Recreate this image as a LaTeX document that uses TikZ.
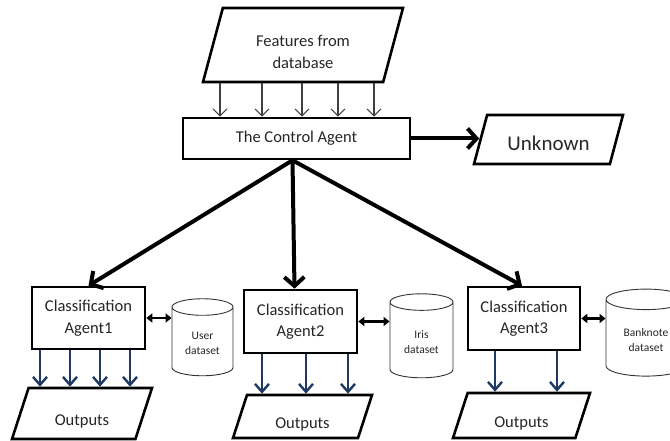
\documentclass[tikz,border=0pt]{standalone}
\usepackage{fontspec}
\setmainfont{Carlito}
\usetikzlibrary{shapes.geometric,arrows.meta}
\definecolor{navy}{RGB}{31,56,100}

\begin{document}
\begin{tikzpicture}[x=1pt,y=-1pt,
  box/.style={draw=black,line width=2.6pt,align=center,text=black!85,font=\fontsize{16.5}{21.5}\selectfont},
  slantbox/.style={trapezium,trapezium left angle=72,trapezium right angle=108,trapezium stretches body,inner ysep=0pt,draw=black,line width=2.6pt,align=center,text=black!85,font=\fontsize{16.5}{21.5}\selectfont},
  datastore/.style={cylinder,shape border rotate=90,aspect=0.4,draw=black!80,line width=0.9pt,align=center,text=black!85,font=\fontsize{11.5}{15}\selectfont},
  feed/.style={-{Straight Barb[length=7pt,width=14pt]},line width=1.1pt,draw=black!75},
  bigarrow/.style={-{Straight Barb[length=9pt,width=20pt]},line width=4pt,draw=black},
  outarrow/.style={-{Straight Barb[length=8pt,width=14pt]},line width=2.4pt,draw=navy},
  link/.style={{Triangle[length=6pt,width=9pt]}-{Triangle[length=6pt,width=9pt]},line width=2.4pt,draw=black}
]
\useasboundingbox (0,0) rectangle (670,441);

\node[slantbox,trapezium left angle=75,trapezium right angle=105,minimum width=200pt,text height=60.5pt,text depth=13.5pt](feat) at (303,45) {Features from\\database};
\node[box,minimum width=227pt,minimum height=41pt](ctrl) at (296.5,138.5) {The Control Agent};
\node[slantbox,trapezium left angle=75,trapezium right angle=105,minimum width=149pt,text height=35.3pt,text depth=13.7pt,font=\fontsize{21}{25}\selectfont](unk) at (548.5,139.5) {Unknown};

\node[box,minimum width=113pt,minimum height=62pt](ag1) at (88.5,318) {Classification\\Agent1};
\node[box,minimum width=113pt,minimum height=63pt](ag2) at (300.5,321.5) {Classification\\Agent2};
\node[box,minimum width=112pt,minimum height=63pt](ag3) at (524,318.5) {Classification\\Agent3};

\node[datastore,minimum width=61pt,minimum height=77pt](db1) at (202.5,343.5) {User\\dataset};
\node[datastore,minimum width=63pt,minimum height=84pt](db2) at (421.5,342) {Iris\\dataset};
\node[datastore,minimum width=80pt,minimum height=87pt](db3) at (646,340) {Banknote\\dataset};

\node[slantbox,minimum width=140pt,text height=37.3pt,text depth=13.7pt](out1) at (82,413.5) {Outputs};
\node[slantbox,minimum width=139pt,text height=33.3pt,text depth=9.7pt](out2) at (302.5,416.5) {Outputs};
\node[slantbox,minimum width=137pt,text height=34.3pt,text depth=10.7pt](out3) at (521.5,415.5) {Outputs};

% features into the control agent
\draw [feed] ([xshift=-76.5pt]ctrl.north |- feat.south) -- ([xshift=-76.5pt]ctrl.north);
\draw [feed] ([xshift=-34.5pt]ctrl.north |- feat.south) -- ([xshift=-34.5pt]ctrl.north);
\draw [feed] ([xshift=5.5pt]ctrl.north |- feat.south) -- ([xshift=5.5pt]ctrl.north);
\draw [feed] ([xshift=41.5pt]ctrl.north |- feat.south) -- ([xshift=41.5pt]ctrl.north);
\draw [feed] ([xshift=77.5pt]ctrl.north |- feat.south) -- ([xshift=77.5pt]ctrl.north);

\draw [bigarrow] (ctrl.east) -- (ctrl.east -| unk.west);
\draw [bigarrow] ([xshift=-4pt]ctrl.south) -- (ag1.north);
\draw [bigarrow] ([xshift=-4pt]ctrl.south) -- ([xshift=-6pt]ag2.north);
\draw [bigarrow] ([xshift=-4pt]ctrl.south) -- ([xshift=-2pt]ag3.north);

\draw [link] (ag1.east) -- (ag1.east -| db1.west);
\draw [link] (ag2.east) -- (ag2.east -| db2.west);
\draw [link] (ag3.east) -- (ag3.east -| db3.west);

% agents to outputs
\draw [outarrow] ([xshift=-48.5pt]ag1.south) -- ([xshift=-48.5pt]ag1.south |- out1.north);
\draw [outarrow] ([xshift=-18.5pt]ag1.south) -- ([xshift=-18.5pt]ag1.south |- out1.north);
\draw [outarrow] ([xshift=11.5pt]ag1.south) -- ([xshift=11.5pt]ag1.south |- out1.north);
\draw [outarrow] ([xshift=41.5pt]ag1.south) -- ([xshift=41.5pt]ag1.south |- out1.north);
\draw [outarrow] ([xshift=-38.5pt]ag2.south) -- ([xshift=-38.5pt]ag2.south |- out2.north);
\draw [outarrow] ([xshift=5.5pt]ag2.south) -- ([xshift=5.5pt]ag2.south |- out2.north);
\draw [outarrow] ([xshift=47.5pt]ag2.south) -- ([xshift=47.5pt]ag2.south |- out2.north);
\draw [outarrow] ([xshift=-29pt]ag3.south) -- ([xshift=-29pt]ag3.south |- out3.north);
\draw [outarrow] ([xshift=33pt]ag3.south) -- ([xshift=33pt]ag3.south |- out3.north);
\end{tikzpicture}
\end{document}
